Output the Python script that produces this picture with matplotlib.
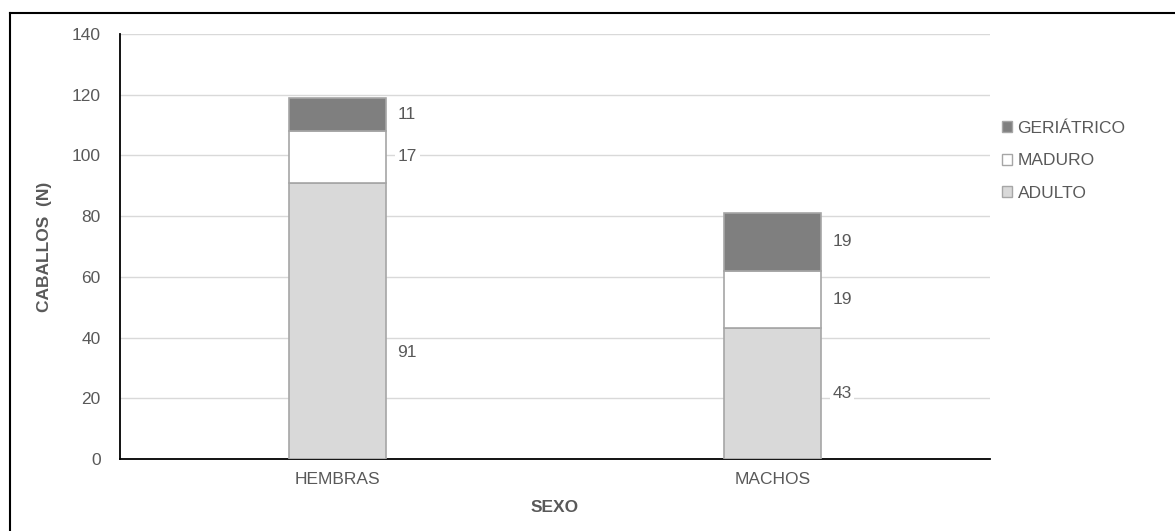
import matplotlib
matplotlib.use("Agg")
import matplotlib.pyplot as plt
from matplotlib.lines import Line2D
from matplotlib.patches import Patch

categories = ["HEMBRAS", "MACHOS"]
adulto = [91, 43]
maduro = [17, 19]
geriatrico = [11, 19]
series_names = ["ADULTO", "MADURO", "GERIÁTRICO"]
yticks = [0, 20, 40, 60, 80, 100, 120, 140]

plt.rcParams['font.family'] = ['Liberation Sans', 'DejaVu Sans']
txt = '#595959'
fs = 12.5

W, H = 1175, 531
fig = plt.figure(figsize=(W / 100, H / 100), dpi=100)
ax = fig.add_axes([120 / W, 1 - 459 / H, 870 / W, 425 / H])

colors = ['#d9d9d9', '#ffffff', '#7f7f7f']
edge = '#a6a6a6'
x = list(range(len(categories)))
bw = 0.225
bottoms = [0] * len(categories)
series = [adulto, maduro, geriatrico]
for vals, col, name in zip(series, colors, series_names):
    ax.bar(x, vals, bw, bottom=bottoms, color=col, edgecolor=edge, linewidth=1.2, zorder=3, label=name)
    for i, v in enumerate(vals):
        yc = bottoms[i] + v / 2
        if name == "ADULTO" and i == 0:
            yc = 35
        ax.annotate(str(v), (x[i] + bw / 2, yc), xytext=(8, 0), textcoords='offset points',
                    ha='left', va='center', fontsize=fs, color=txt, zorder=4,
                    bbox=dict(boxstyle='square,pad=0.15', fc='white', ec='none'))
    bottoms = [b + v for b, v in zip(bottoms, vals)]

ax.set_xlim(-0.5, len(categories) - 0.5)
ax.set_ylim(0, 140)
ax.set_yticks(yticks)
ax.set_xticks(x)
ax.set_xticklabels(categories)
ax.tick_params(axis='both', length=0, labelsize=fs, colors=txt, pad=9)
ax.tick_params(axis='y', pad=14)
ax.grid(axis='y', color='#d9d9d9', linewidth=1, zorder=0)
ax.set_axisbelow(True)
for s in ['top', 'right']:
    ax.spines[s].set_visible(False)
ax.spines['left'].set_color('black')
ax.spines['bottom'].set_color('black')
ax.spines['left'].set_linewidth(1.3)
ax.spines['bottom'].set_linewidth(1.3)

ax.set_ylabel("CABALLOS  (N)", fontsize=fs, fontweight='bold', color=txt, labelpad=14)
ax.set_xlabel("SEXO", fontsize=fs, fontweight='bold', color=txt, labelpad=10)

handles = [Patch(facecolor=c, edgecolor=edge, label=n) for c, n in zip(colors[::-1], series_names[::-1])]
fig.legend(handles=handles, loc='upper left', bbox_to_anchor=(995 / W, 1 - 114 / H),
           frameon=False, fontsize=fs, labelcolor=txt, handlelength=0.6, handleheight=0.6,
           handletextpad=0.3, labelspacing=1.0, borderaxespad=0)

fig.add_artist(Line2D([10 / W, 1], [1 - 12.5 / H, 1 - 12.5 / H], transform=fig.transFigure, color='black', lw=1.5))
fig.add_artist(Line2D([10 / W, 10 / W], [0, 1 - 12.5 / H], transform=fig.transFigure, color='black', lw=1.5))

fig.savefig("out.png", dpi=100)
